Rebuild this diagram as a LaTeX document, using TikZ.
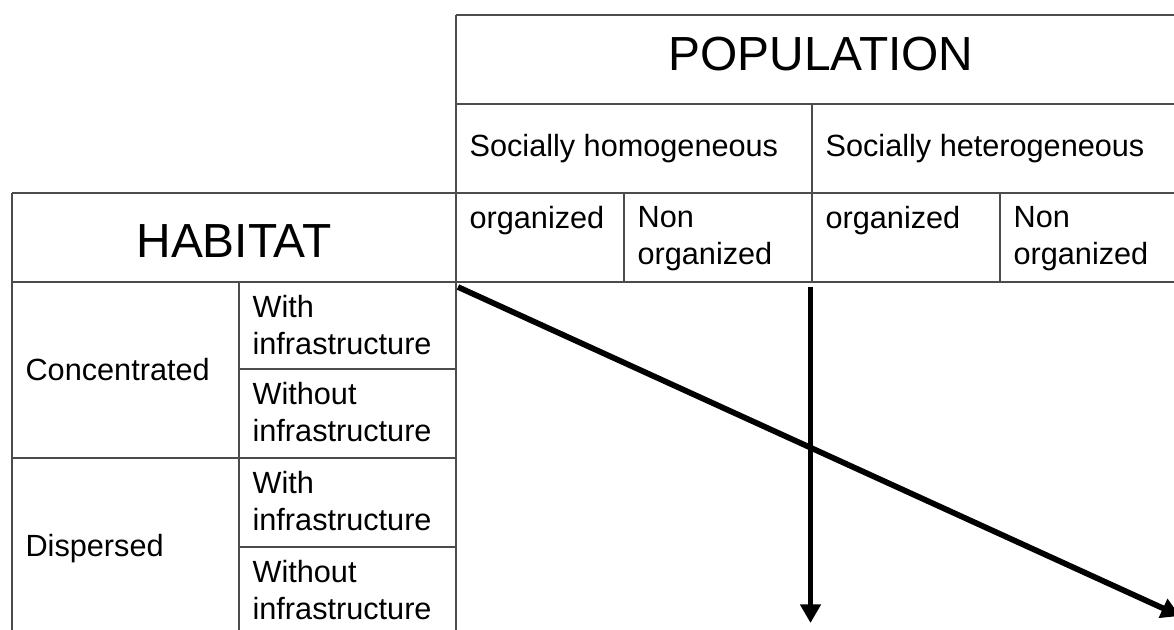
\documentclass[tikz,border=0pt]{standalone}
\usepackage{fontspec}
\setmainfont{Liberation Sans}
\setsansfont{Liberation Sans}
\usetikzlibrary{arrows, arrows.meta, calc, positioning}

\begin{document}
\begin{tikzpicture}[font=\sffamily, x=0.75pt, y=-0.75pt,
	grid/.style={draw=black!70, line width=0.8pt},
	cell/.style={anchor=north west, inner sep=10pt, align=left, font=\fontsize{23}{27.75}\selectfont},
	big/.style={inner sep=0pt, font=\fontsize{35.9}{40}\selectfont},
	arr/.style={line width=4.3pt, -{Triangle[width=15pt, length=14pt]}}]
	\useasboundingbox (0,0) rectangle (1174,629);
	\def\xa{12}
	\def\xb{239}
	\def\xc{456}
	\def\xd{624}
	\def\xe{812}
	\def\xf{1000}
	\def\xg{1186}
	\def\ya{15}
	\def\yb{104}
	\def\yc{193}
	\def\yd{282}
	\def\ye{369}
	\def\yf{458}
	\def\yg{547}
	\def\yh{640}

	\draw[grid]	(\xc,\ya) -- (\xg,\ya);
	\draw[grid]	(\xc,\yb) -- (\xg,\yb);
	\draw[grid]	(\xa,\yc) -- (\xg,\yc);
	\draw[grid]	(\xa,\yd) -- (\xg,\yd);
	\draw[grid]	(\xb,\ye) -- (\xc,\ye);
	\draw[grid]	(\xa,\yf) -- (\xc,\yf);
	\draw[grid]	(\xb,\yg) -- (\xc,\yg);
	\draw[grid]	(\xa,\yc) -- (\xa,\yh);
	\draw[grid]	(\xb,\yd) -- (\xb,\yh);
	\draw[grid]	(\xc,\ya) -- (\xc,\yh);
	\draw[grid]	(\xd,\yc) -- (\xd,\yd);
	\draw[grid]	(\xe,\yb) -- (\xe,\yd);
	\draw[grid]	(\xf,\yc) -- (\xf,\yd);

	\node[big, anchor=base]	(population) at (821,70) {POPULATION};
	\node[big, anchor=base]	(habitat) at (234,257) {HABITAT};
	\node[cell, anchor=west]	(homog) at (\xc,148.5) {Socially homogeneous};
	\node[cell, anchor=west]	(heterog) at (\xe,148.5) {Socially heterogeneous};
	\node[cell]	(orgA) at (\xc,\yc) {organized};
	\node[cell]	(nonA) at (\xd,\yc) {Non\\organized};
	\node[cell]	(orgB) at (\xe,\yc) {organized};
	\node[cell]	(nonB) at (\xf,\yc) {Non\\organized};
	\node[cell, anchor=west]	(conc) at (\xa,370) {Concentrated};
	\node[cell, anchor=west]	(disp) at (\xa,549) {Dispersed};
	\node[cell]	(concW) at (\xb,\yd) {With\\infrastructure};
	\node[cell]	(concWo) at (\xb,\ye) {Without\\infrastructure};
	\node[cell]	(dispW) at (\xb,\yf) {With\\infrastructure};
	\node[cell]	(dispWo) at (\xb,\yg) {Without\\infrastructure};

	\coordinate (diagA) at (458,287);
	\coordinate (diagB) at (1180,616);
	\coordinate (vertA) at (810.5,287);
	\coordinate (vertB) at (810.5,623);
	\draw[arr]	(diagA) -- (diagB);
	\draw[arr]	(vertA) -- (vertB);
\end{tikzpicture}
\end{document}
